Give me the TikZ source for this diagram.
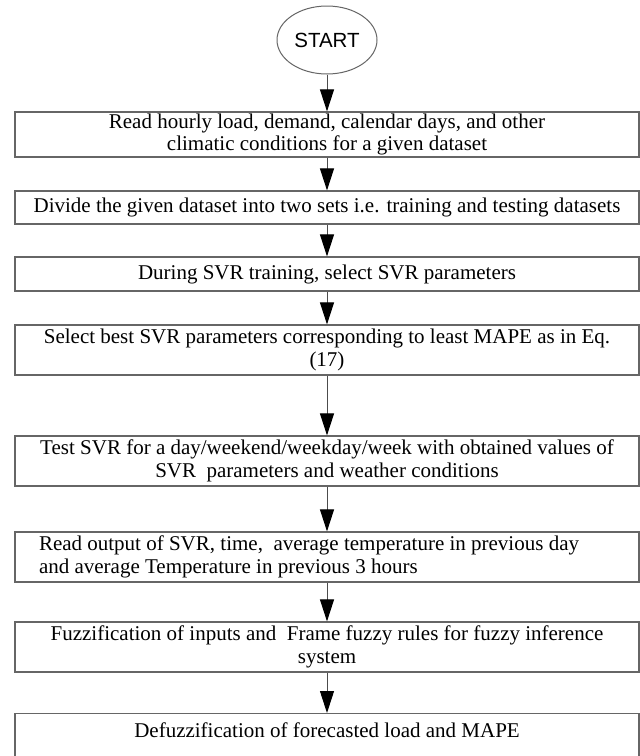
\documentclass[tikz,border=0pt]{standalone}
\usepackage{fontspec}
\setmainfont{Liberation Serif}
\newfontfamily\startfont{Liberation Sans}
\usetikzlibrary{shapes.geometric,arrows.meta}

\tikzset{
	procbox/.style={draw=black!60,line width=1.2pt,fill=white,minimum width=624pt,inner xsep=6pt,inner ysep=0pt,align=center,font=\fontsize{21}{22.5}\selectfont},
	startnode/.style={draw=black!60,line width=1pt,ellipse,minimum width=100pt,minimum height=68pt,inner sep=0pt,font=\startfont\fontsize{20.5}{22}\selectfont},
	flowarrow/.style={-{Triangle[width=14pt,length=22pt,black]},draw=black!70,line width=1pt}
}

\begin{document}
\begin{tikzpicture}[x=1pt,y=-1pt]
			% Load forecasting flowchart
			\useasboundingbox (0,0) rectangle (640,756);
			\clip (0,0) rectangle (640,756);
			\fill[white] (0,0) rectangle (640,756);
			
			\node[startnode] (Start) at (327,40) {START};
			\node[procbox,minimum height=45pt] (ReadData) at (327,134.5) {Read hourly load, demand, calendar days, and other\\climatic conditions for a given dataset};
			\node[procbox,minimum height=33pt] (DivideData) at (327,207.5) {Divide the given dataset into two sets i.e. training and testing datasets};
			\node[procbox,minimum height=34pt] (SelectParams) at (327,274) {During SVR training, select SVR parameters};
			\node[procbox,minimum height=50pt] (BestParams) at (327,350) {Select best SVR parameters corresponding to least MAPE as in Eq.\\(17)};
			\node[procbox,minimum height=50pt] (TestSVR) at (327,461) {Test SVR for a day/weekend/weekday/week with obtained values of\\SVR\ \ parameters and weather conditions};
			\node[procbox,minimum height=50pt,align=flush left,text width=576pt,inner xsep=24pt] (ReadOutput) at (327,557) {Read output of SVR, time,\ \ average temperature in previous day\\and average Temperature in previous 3 hours};
			\node[procbox,minimum height=50pt] (Fuzzify) at (327,647) {Fuzzification of inputs and\ \ Frame fuzzy rules for fuzzy inference\\system};
			\node[procbox,anchor=north,text height=24pt,text depth=34pt] (Defuzzify) at (327,713) {Defuzzification of forecasted load and MAPE};
			
			\draw[flowarrow] (Start.south) to (ReadData.north);
			\draw[flowarrow] (ReadData.south) to (DivideData.north);
			\draw[flowarrow] (DivideData.south) to (SelectParams.north);
			\draw[flowarrow] (SelectParams.south) to (BestParams.north);
			\draw[flowarrow] (BestParams.south) to (TestSVR.north);
			\draw[flowarrow] (TestSVR.south) to (ReadOutput.north);
			\draw[flowarrow] (ReadOutput.south) to (Fuzzify.north);
			\draw[flowarrow] (Fuzzify.south) to (Defuzzify.north);
			
			\end{tikzpicture}
\end{document}
